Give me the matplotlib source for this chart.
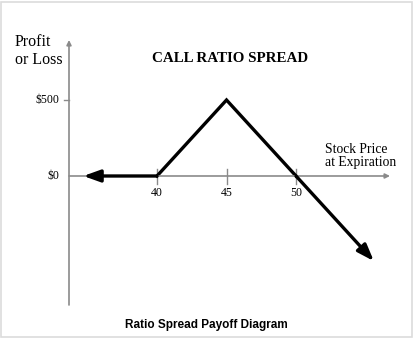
import matplotlib.pyplot as plt
from matplotlib.patches import Rectangle

# payoff of the call ratio spread (stock price at expiration -> profit/loss)
price = [34.7, 40, 45, 50, 55.6]
payoff = [0, 0, 500, 0, -560]
xtick_vals = [40, 45, 50]
xtick_labels = ['40', '45', '50']
ytick_vals = [0, 500]
ytick_labels = ['$0', '$500']

serif = 'Liberation Serif'

fig = plt.figure(figsize=(4.14, 3.39), dpi=100)
fig.patches.append(Rectangle((1.5 / 414, 2.5 / 339), 411 / 414, 335 / 339,
                             transform=fig.transFigure, fill=False,
                             edgecolor='#dcdcdc', linewidth=1.2))

ax = fig.add_axes([69 / 414, 34 / 339, 321 / 414, 265 / 339])
ax.set_xlim(33.67, 56.76)
ax.set_ylim(-848.7, 894.7)
ax.axis('off')

# axes with arrowheads
ax.annotate('', xy=(56.76, 0), xytext=(33.67, 0),
            arrowprops=dict(arrowstyle='-|>', color='#8a8a8a', lw=1.2,
                            mutation_scale=7, shrinkA=0, shrinkB=0))
ax.annotate('', xy=(33.67, 894.7), xytext=(33.67, -848.7),
            arrowprops=dict(arrowstyle='-|>', color='#8a8a8a', lw=1.2,
                            mutation_scale=7, shrinkA=0, shrinkB=0))

# ticks
for xv, lab in zip(xtick_vals, xtick_labels):
    ax.plot([xv, xv], [-50, 45], color='#8a8a8a', lw=1)
    ax.text(xv, -75, lab, ha='center', va='top', fontsize=8.5, family=serif)
for yv, lab in zip(ytick_vals, ytick_labels):
    if yv != 0:
        ax.plot([33.3, 33.67], [yv, yv], color='#8a8a8a', lw=1, clip_on=False)
    ax.text(32.95, yv, lab, ha='right', va='center', fontsize=8.5, family=serif)

# payoff line
ax.plot(price[1:-1], payoff[1:-1], color='black', lw=2.4, solid_joinstyle='miter')
head = '-|>,head_length=1.0,head_width=0.36'
ax.annotate('', xy=(price[0], payoff[0]), xytext=(price[1], payoff[1]),
            arrowprops=dict(arrowstyle=head, color='black', lw=2.4,
                            shrinkA=0, shrinkB=0, mutation_scale=10))
ax.annotate('', xy=(price[-1], payoff[-1]), xytext=(price[-2], payoff[-2]),
            arrowprops=dict(arrowstyle=head, color='black', lw=2.4,
                            shrinkA=0, shrinkB=0, mutation_scale=10))

# texts
fig.text(15 / 414, 1 - 51 / 339, 'Profit\nor Loss', ha='left', va='center',
         fontsize=11.5, family=serif, linespacing=1.15)
fig.text(230 / 414, 1 - 58 / 339, 'CALL RATIO SPREAD', ha='center', va='center',
         fontsize=10.8, family=serif, fontweight='bold')
fig.text(325 / 414, 1 - 156 / 339, 'Stock Price\nat Expiration', ha='left',
         va='center', fontsize=9.8, family=serif, linespacing=1.05)
fig.text(206 / 414, 1 - 325 / 339, 'Ratio Spread Payoff Diagram', ha='center',
         va='center', fontsize=8.5, family='Liberation Sans', fontweight='bold')

fig.savefig('out.png', dpi=100)
